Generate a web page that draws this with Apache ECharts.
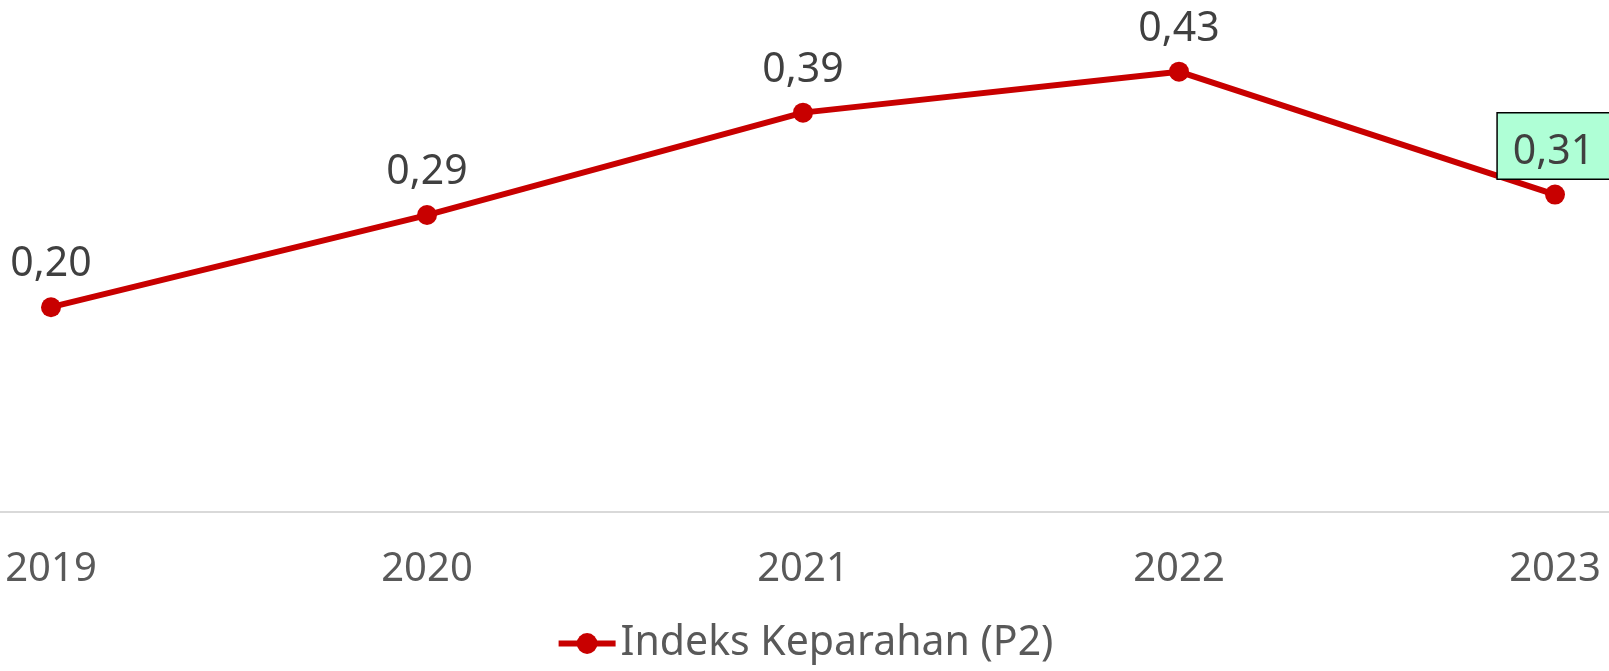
<!DOCTYPE html>
<html>
<head>
<meta charset="utf-8">
<script src="https://cdn.jsdelivr.net/npm/echarts@6/dist/echarts.min.js"></script>
<style>
html,body{margin:0;padding:0;background:#fff;}
#chart{width:1609px;height:671px;}
</style>
</head>
<body>
<div id="chart"></div>
<script>
const categories = ['2019', '2020', '2021', '2022', '2023'];
const seriesName = 'Indeks Keparahan (P2)';
const values = [0.20, 0.29, 0.39, 0.43, 0.31];

const fmt = v => v.toFixed(2).replace('.', ',');

const chart = echarts.init(document.getElementById('chart'));
const data = values.map((v, i) => {
  const item = { value: v };
  if (i === values.length - 1) {
    item.label = {
      backgroundColor: '#AFFFD6',
      borderColor: '#000',
      borderWidth: 1.5,
      padding: [18, 18, 6, 15],
      distance: 6
    };
  }
  return item;
});
chart.setOption({
  animation: false,
  textStyle: { fontFamily: '"Noto Sans", sans-serif' },
  grid: [
    { left: 51, right: 54, top: 0, bottom: 159 },
    { left: 0, right: 0, top: 0, bottom: 159 }
  ],
  xAxis: [{
    type: 'category',
    data: categories,
    boundaryGap: false,
    axisLine: { show: false },
    axisTick: { show: false },
    axisLabel: { color: '#595959', fontSize: 40, margin: 38, fontFamily: '"Noto Sans", sans-serif' }
  }, {
    type: 'category',
    gridIndex: 1,
    data: categories,
    axisLine: { show: true, lineStyle: { color: '#d9d9d9', width: 2 } },
    axisTick: { show: false },
    axisLabel: { show: false },
    z: 0
  }],
  yAxis: [{
    type: 'value',
    min: 0, max: 0.5,
    show: false,
    splitLine: { show: false }
  }, {
    type: 'value',
    gridIndex: 1,
    min: 0, max: 0.5,
    show: false,
    splitLine: { show: false }
  }],
  legend: {
    bottom: 2,
    left: 'center',
    itemWidth: 57,
    itemHeight: 26,
    itemGap: 4,
    lineStyle: { width: 6 },
    textStyle: { color: '#595959', fontSize: 41, fontFamily: '"Noto Sans", sans-serif' },
    data: [seriesName]
  },
  series: [{
    name: seriesName,
    type: 'line',
    data: data,
    symbol: 'circle',
    symbolSize: 20,
    z: 3,
    itemStyle: { color: '#C80000' },
    lineStyle: { color: '#C80000', width: 6 },
    label: {
      show: true,
      position: 'top',
      distance: 12,
      color: '#404040',
      fontSize: 41,
      fontFamily: '"Noto Sans", sans-serif',
      formatter: p => fmt(p.value)
    }
  }]
});
</script>
</body>
</html>
